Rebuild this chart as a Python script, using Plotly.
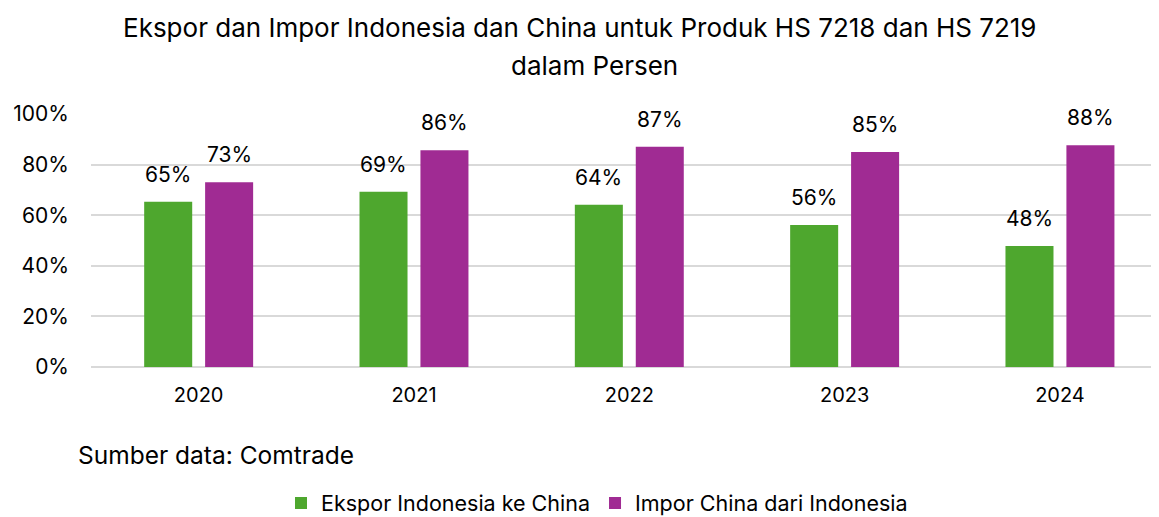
import plotly.graph_objects as go

years = ["2020", "2021", "2022", "2023", "2024"]
ekspor = [0.653, 0.693, 0.641, 0.561, 0.478]
impor = [0.730, 0.857, 0.871, 0.850, 0.876]
series_names = ["Ekspor Indonesia ke China", "Impor China dari Indonesia"]
colors = ["#4EA72E", "#A02B93"]
title_lines = ["Ekspor dan Impor Indonesia dan China untuk Produk HS 7218 dan HS 7219",
               "dalam Persen"]
source_text = "Sumber data: Comtrade"

FONT = "Inter"
OFF = 8  # page body margin
W, H = 1159 - OFF, 517 - OFF
L, R, T, B = 91 - OFF, 0, 114 - OFF, 517 - 367
plot_h = H - T - B
plot_w = W - L - R
bar_shift = 30.5  # pixel offset of each bar centre from category centre

fig = go.Figure()
for name, vals, col in zip(series_names, [ekspor, impor], colors):
    fig.add_trace(go.Bar(
        x=years, y=vals, name=name, marker=dict(color=col, line=dict(width=0)),
        cliponaxis=False,
    ))

# data labels
for k, vals in enumerate([ekspor, impor]):
    for i, v in enumerate(vals):
        fig.add_annotation(x=i, y=v, xref="x", yref="y", text=f"{round(v*100)}%",
                           showarrow=False, xanchor="center", yanchor="bottom", yshift=13,
                           xshift=(-bar_shift if k == 0 else bar_shift),
                           font=dict(size=21, family=FONT, color="#000000"))

def py(pix):
    # pix measured in the 1159x517 reference page
    return (H - B - (pix - OFF)) / plot_h

def px(pix):
    return (pix - OFF - L) / plot_w

for line, xcen, ycen in zip(title_lines, [580, 594], [28, 66]):
    fig.add_annotation(text=line, xref="paper", yref="paper", x=px(xcen),
                       y=py(ycen), xanchor="center", yanchor="middle", showarrow=False,
                       font=dict(size=26, family=FONT, color="#000000"))

fig.add_annotation(text=source_text, xref="paper", yref="paper", x=px(76),
                   y=py(455), xanchor="left", yanchor="middle", showarrow=False,
                   font=dict(size=24.5, family=FONT, color="#000000"))

fig.update_layout(
    width=W, height=H,
    paper_bgcolor="white", plot_bgcolor="white",
    margin=dict(l=L, r=R, t=T, b=B, autoexpand=False),
    barmode="group", bargap=0.434, bargroupgap=0.212,
    font=dict(family=FONT, color="#000000"),
    showlegend=True,
    xaxis=dict(type="category", range=[-0.5, 4.46], showgrid=False, showline=False,
               ticks="", tickfont=dict(size=20, family=FONT), ticklabelstandoff=14,
               automargin=False),
    yaxis=dict(range=[0, 1], tickvals=[0, 0.2, 0.4, 0.6, 0.8, 1.0], tickformat=".0%",
               showgrid=True, gridcolor="#D9D9D9", gridwidth=2, zeroline=True,
               zerolinecolor="#D9D9D9", zerolinewidth=2, showline=False, ticks="",
               tickfont=dict(size=21, family=FONT), ticklabelstandoff=21,
               automargin=False),
    legend=dict(orientation="h", x=px(597), xanchor="center", y=py(503), yanchor="middle",
                font=dict(size=21.5, family=FONT), itemwidth=30, traceorder="normal",
                tracegroupgap=0),
)

fig.write_html("out.html")
